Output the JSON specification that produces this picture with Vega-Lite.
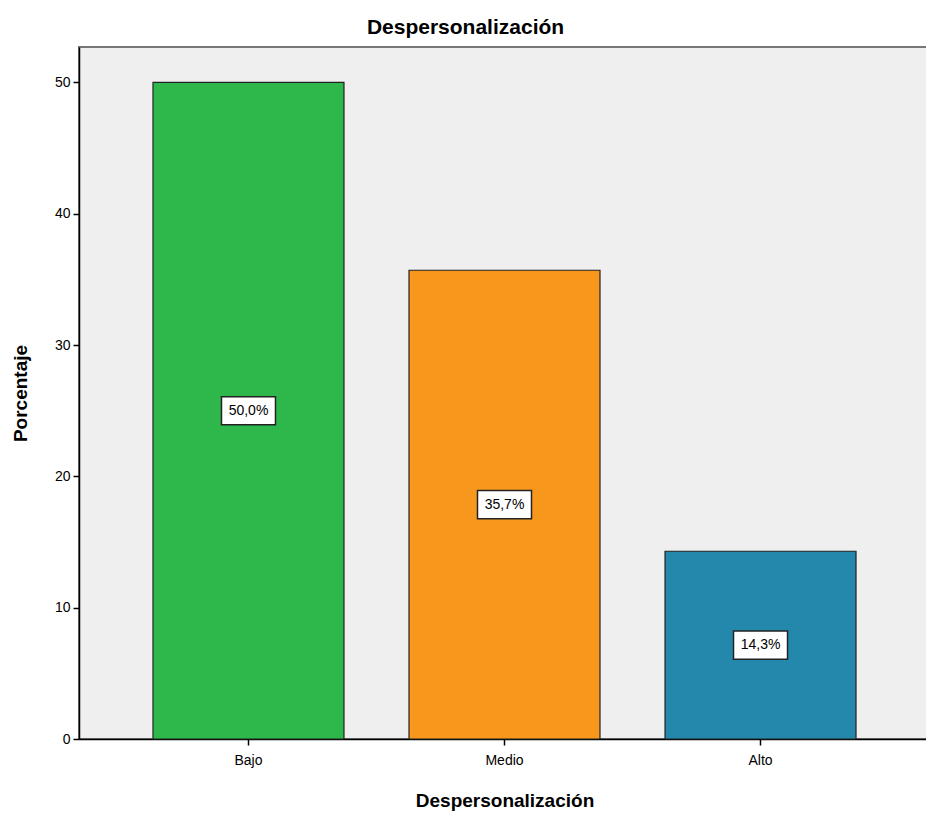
{
  "$schema": "https://vega.github.io/schema/vega-lite/v6.json",
  "autosize": {"type": "none"},
  "padding": {"left": 79, "top": 47, "right": 0, "bottom": 79},
  "width": 851,
  "height": 692,
  "background": "white",
  "title": {"text": "Despersonalización", "font": "Liberation Sans", "fontSize": 21, "fontWeight": "bold", "color": "#000000", "anchor": "middle", "dx": -39, "offset": 9},
  "config": {
    "view": {"fill": "#EFEFEF", "stroke": "#777777", "strokeWidth": 2},
    "axis": {"labelFont": "Liberation Sans", "titleFont": "Liberation Sans", "labelColor": "#000000", "titleColor": "#000000", "domainColor": "#000000", "tickColor": "#000000", "grid": false, "labelFontSize": 14, "titleFontSize": 19, "titleFontWeight": "bold", "domainWidth": 1.5, "tickWidth": 1.5, "tickSize": 6}
  },
  "data": {"values": [
    {"cat": "Bajo", "pct": 50.0, "label": "50,0%"},
    {"cat": "Medio", "pct": 35.7, "label": "35,7%"},
    {"cat": "Alto", "pct": 14.3, "label": "14,3%"}
  ]},
  "transform": [{"calculate": "datum.pct / 2", "as": "mid"}],
  "encoding": {
    "x": {"field": "cat", "type": "nominal", "sort": ["Bajo", "Medio", "Alto"],
      "scale": {"paddingInner": 0.254, "paddingOuter": 0.289},
      "axis": {"title": "Despersonalización", "labelAngle": 0, "labelPadding": 8, "titlePadding": 24}}
  },
  "layer": [
    {
      "mark": {"type": "bar", "stroke": "#222222", "strokeWidth": 1.2},
      "encoding": {
        "y": {"field": "pct", "type": "quantitative", "scale": {"domain": [0, 52.7], "nice": false},
          "axis": {"title": "Porcentaje", "values": [0, 10, 20, 30, 40, 50], "labelPadding": 3, "titlePadding": 24}},
        "color": {"field": "cat", "type": "nominal", "scale": {"domain": ["Bajo", "Medio", "Alto"], "range": ["#2EB84B", "#F7981D", "#2388AB"]}, "legend": null}
      }
    },
    {
      "mark": {"type": "point", "shape": "M-1,-0.52L1,-0.52L1,0.52L-1,0.52Z", "size": 2916, "filled": true, "fill": "white", "stroke": "#222222", "strokeWidth": 1.5, "opacity": 1},
      "encoding": {"y": {"field": "mid", "type": "quantitative"}}
    },
    {
      "mark": {"type": "text", "font": "Liberation Sans", "fontSize": 14, "color": "#000000", "baseline": "middle", "align": "center"},
      "encoding": {"y": {"field": "mid", "type": "quantitative"}, "text": {"field": "label"}}
    }
  ]
}
